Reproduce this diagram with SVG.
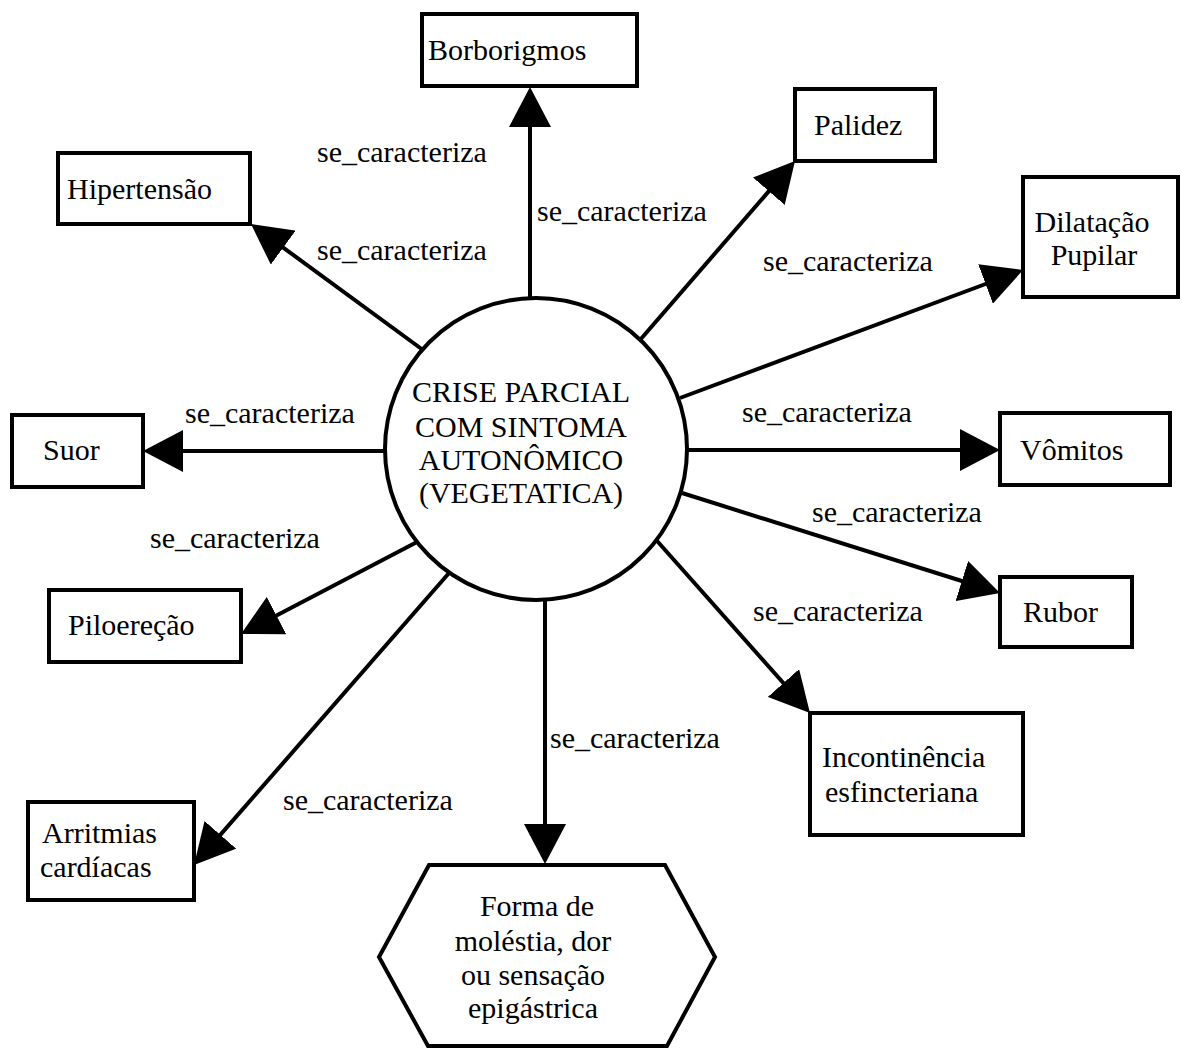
<svg xmlns="http://www.w3.org/2000/svg" width="1182" height="1049" viewBox="0 0 1182 1049">
  <style>
    .box { fill: #fff; stroke: #000; stroke-width: 4; }
    .edge { stroke: #000; stroke-width: 4; fill: none; marker-end: url(#arrow); }
    text { font-family: "Liberation Serif", "Times New Roman", serif; font-size: 30px; fill: #000; }
    .mid { text-anchor: middle; }
  </style>
  <defs>
    <!-- solid triangular head; tip sits 20px past the line end -->
    <marker id="arrow" markerUnits="userSpaceOnUse" viewBox="0 0 40 42" markerWidth="40" markerHeight="42" refX="20" refY="21" orient="auto">
      <path d="M0,0 L40,21 L0,42 z" fill="#000"/>
    </marker>
  </defs>
  <rect width="1182" height="1049" fill="#fff"/>

  <!-- connectors: centre circle to each symptom -->
  <g id="connectors">
    <line class="edge" x1="530" y1="298" x2="530" y2="107"/>
    <line class="edge" x1="640" y1="340" x2="781.9" y2="176.1"/>
    <line class="edge" x1="680" y1="398" x2="1004.3" y2="277"/>
    <line class="edge" x1="687" y1="450" x2="980" y2="450"/>
    <line class="edge" x1="682" y1="493" x2="980.9" y2="587"/>
    <line class="edge" x1="650" y1="533" x2="796.7" y2="698"/>
    <line class="edge" x1="545" y1="600" x2="545" y2="844"/>
    <line class="edge" x1="449" y1="573" x2="207.2" y2="849.9"/>
    <line class="edge" x1="417" y1="542" x2="258.8" y2="624.8"/>
    <line class="edge" x1="385" y1="451" x2="163" y2="451"/>
    <line class="edge" x1="423" y1="350" x2="267.1" y2="235.8"/>
  </g>

  <g id="labels">
    <text x="317" y="162">se_caracteriza</text>
    <text x="317" y="260">se_caracteriza</text>
    <text x="537" y="221">se_caracteriza</text>
    <text x="763" y="271">se_caracteriza</text>
    <text x="742" y="422">se_caracteriza</text>
    <text x="812" y="522">se_caracteriza</text>
    <text x="753" y="621">se_caracteriza</text>
    <text x="550" y="748">se_caracteriza</text>
    <text x="283" y="810">se_caracteriza</text>
    <text x="150" y="548">se_caracteriza</text>
    <text x="185" y="423">se_caracteriza</text>
  </g>

  <g id="crise-parcial">
    <circle class="box" cx="536" cy="449" r="151"/>
    <text class="mid" x="521" y="402">CRISE PARCIAL</text>
    <text class="mid" x="521" y="437">COM SINTOMA</text>
    <text class="mid" x="521" y="470">AUTONÔMICO</text>
    <text class="mid" x="521" y="503">(VEGETATICA)</text>
  </g>

  <g id="borborigmos">
    <rect class="box" x="422" y="14" width="215" height="72"/>
    <text x="428" y="60">Borborigmos</text>
  </g>

  <g id="hipertensao">
    <rect class="box" x="58" y="153" width="192" height="71"/>
    <text x="67" y="199">Hipertensão</text>
  </g>

  <g id="palidez">
    <rect class="box" x="795" y="89" width="140" height="72"/>
    <text x="814" y="135">Palidez</text>
  </g>

  <g id="dilatacao-pupilar">
    <rect class="box" x="1023" y="177" width="155" height="120"/>
    <text class="mid" x="1092" y="232">Dilatação</text>
    <text class="mid" x="1094" y="265">Pupilar</text>
  </g>

  <g id="vomitos">
    <rect class="box" x="1000" y="413" width="170" height="72"/>
    <text x="1020" y="460">Vômitos</text>
  </g>

  <g id="rubor">
    <rect class="box" x="1000" y="577" width="132" height="70"/>
    <text x="1023" y="622">Rubor</text>
  </g>

  <g id="incontinencia">
    <rect class="box" x="810" y="713" width="213" height="122"/>
    <text x="822" y="767">Incontinência</text>
    <text x="825" y="802">esfincteriana</text>
  </g>

  <g id="forma-molestia">
    <polygon class="box" points="429,865 665,865 715,957 667,1046 428,1046 379,957"/>
    <text class="mid" x="537" y="916">Forma de</text>
    <text class="mid" x="533" y="951">moléstia, dor</text>
    <text class="mid" x="533" y="985">ou sensação</text>
    <text class="mid" x="533" y="1018">epigástrica</text>
  </g>

  <g id="arritmias">
    <rect class="box" x="28" y="802" width="166" height="98"/>
    <text x="42" y="843">Arritmias</text>
    <text x="40" y="877">cardíacas</text>
  </g>

  <g id="piloerecao">
    <rect class="box" x="49" y="590" width="192" height="72"/>
    <text x="68" y="635">Piloereção</text>
  </g>

  <g id="suor">
    <rect class="box" x="12" y="415" width="131" height="72"/>
    <text x="43" y="460">Suor</text>
  </g>
</svg>
